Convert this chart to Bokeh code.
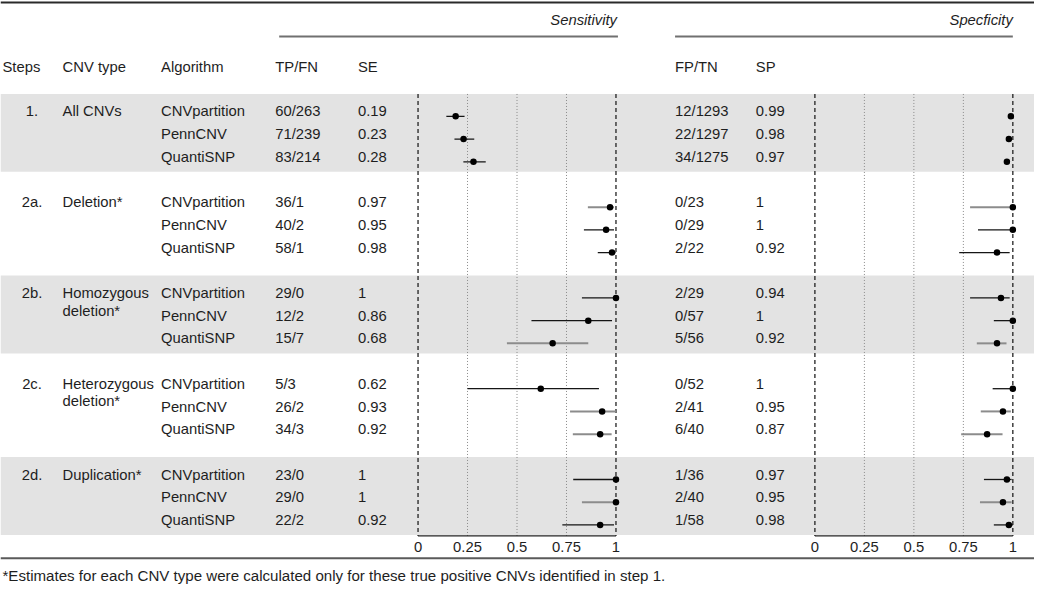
from bokeh.plotting import figure
from bokeh.models import Range1d
from bokeh.embed import file_html
from bokeh.resources import INLINE
from bokeh.core.properties import value

# ---------------- data ----------------
steps = ["1.", "2a.", "2b.", "2c.", "2d."]
cnv_types = ["All CNVs", "Deletion*", "Homozygous\ndeletion*", "Heterozygous\ndeletion*", "Duplication*"]
algorithms = ["CNVpartition", "PennCNV", "QuantiSNP"]
tp_fn = ["60/263", "71/239", "83/214", "36/1", "40/2", "58/1", "29/0", "12/2", "15/7",
         "5/3", "26/2", "34/3", "23/0", "29/0", "22/2"]
se = [0.19, 0.23, 0.28, 0.97, 0.95, 0.98, 1, 0.86, 0.68, 0.62, 0.93, 0.92, 1, 1, 0.92]
se_lo = [0.143, 0.184, 0.229, 0.858, 0.838, 0.908, 0.828, 0.573, 0.449, 0.25, 0.768, 0.782, 0.784, 0.828, 0.729]
se_hi = [0.235, 0.284, 0.342, 0.99, 0.99, 0.998, 1, 0.98, 0.86, 0.914, 1, 0.978, 1, 1, 0.99]
fp_tn = ["12/1293", "22/1297", "34/1275", "0/23", "0/29", "2/22", "2/29", "0/57", "5/56",
         "0/52", "2/41", "6/40", "1/36", "2/40", "1/58"]
sp = [0.99, 0.98, 0.97, 1, 1, 0.92, 0.94, 1, 0.92, 1, 0.95, 0.87, 0.97, 0.95, 0.98]
sp_lo = [0.984, 0.973, 0.96, 0.784, 0.824, 0.729, 0.784, 0.904, 0.818, 0.898, 0.838, 0.739, 0.854, 0.834, 0.904]
sp_hi = [0.995, 0.988, 0.98, 1, 1, 0.984, 0.984, 1, 0.968, 1, 0.99, 0.948, 0.994, 0.994, 1]
ticks = [0, 0.25, 0.5, 0.75, 1]
tick_labels = ["0", "0.25", "0.5", "0.75", "1"]
footnote = "*Estimates for each CNV type were calculated only for these true positive CNVs identified in step 1."

# ---------------- layout (reference pixel space) ----------------
W, H = 1050, 605
SE0, SP0, UNIT = 424.0, 827.0, 201.0
GROUP_TOP, GROUP_PITCH, BAND_H = 96.0, 93.25, 80.0
ROW_OFF, ROW_PITCH, DOT_OFF = 18.0, 23.33, 5.0
WRAP_PITCH = 18.0
AXIS_Y = 550.0
FONT = "Liberation Sans"
FS = "14.8px"
TXT = "#1e1e1e"

p = figure(width=1034, height=589, x_range=Range1d(0, W), y_range=Range1d(H, 0),
           x_axis_type=None, y_axis_type=None, output_backend="svg",
           toolbar_location=None, min_border=0)
p.grid.visible = False
p.outline_line_color = None
p.background_fill_color = "white"
p.border_fill_color = "white"
p.extra_x_ranges = {
    "se": Range1d((0 - SE0) / UNIT, (W - SE0) / UNIT),
    "sp": Range1d((0 - SP0) / UNIT, (W - SP0) / UNIT),
}


def txt(xs, ys, texts, size=FS, align="left", style="normal", color=TXT, rn="default"):
    p.text(x=xs, y=ys, text=texts, text_font=value(FONT), text_font_size=value(size),
           text_align=align, text_baseline="middle", text_font_style=style,
           text_color=color, x_range_name=rn)


n_groups = len(steps)
n_alg = len(algorithms)
group_tops = [GROUP_TOP + GROUP_PITCH * g for g in range(n_groups)]
row_y = [group_tops[g] + ROW_OFF + ROW_PITCH * i for g in range(n_groups) for i in range(n_alg)]
dot_y = [y + DOT_OFF for y in row_y]

# gray bands for alternate groups
band_tops = [group_tops[g] for g in range(0, n_groups, 2)]
p.quad(left=0, right=W, top=band_tops, bottom=[t + BAND_H for t in band_tops],
       fill_color="#e3e3e3", line_color=None)

# rules
p.segment(x0=[0], x1=[W], y0=[2], y1=[2], line_color="#2a2a2a", line_width=2)
p.segment(x0=[0], x1=[W], y0=[573], y1=[573], line_color="#5a5a5a", line_width=2)
p.segment(x0=[283, 685], x1=[627, 1028], y0=[37, 37], y1=[37, 37], line_color="#707070", line_width=2)

# section titles
txt([626], [20], ["Sensitivity"], align="right", style="italic")
txt([1028], [20], ["Specficity"], align="right", style="italic")

# column headers
txt([2, 63, 163, 279, 363, 685, 767], [68] * 7,
    ["Steps", "CNV type", "Algorithm", "TP/FN", "SE", "FP/TN", "SP"])

# step and CNV type labels
txt([32] * n_groups, [group_tops[g] + ROW_OFF for g in range(n_groups)], steps, align="center")
cx, cy, ct = [], [], []
for g, name in enumerate(cnv_types):
    for k, line in enumerate(name.split("\n")):
        cx.append(63)
        cy.append(group_tops[g] + ROW_OFF + WRAP_PITCH * k)
        ct.append(line)
txt(cx, cy, ct)

# row texts
alg_col = [algorithms[i] for g in range(n_groups) for i in range(n_alg)]
txt([163] * len(row_y), row_y, alg_col)
txt([279] * len(row_y), row_y, tp_fn)
txt([363] * len(row_y), row_y, [f"{v:g}" for v in se])
txt([685] * len(row_y), row_y, fp_tn)
txt([767] * len(row_y), row_y, [f"{v:g}" for v in sp])

# forest panels
shade_rows = {3, 8, 10, 11, 13}
ci_col = ["#8c8c8c" if i in shade_rows else "#151515" for i in range(len(row_y))]
ci_w = [2.0 if i in shade_rows else 1.3 for i in range(len(row_y))]
ends = [ticks[0], ticks[-1]]
inner = ticks[1:-1]
for rn, est, lo, hi in (("se", se, se_lo, se_hi), ("sp", sp, sp_lo, sp_hi)):
    p.segment(x0=inner, x1=inner, y0=[GROUP_TOP] * len(inner), y1=[AXIS_Y] * len(inner),
              line_color="#8a8a8a", line_width=1, line_dash="1 2", x_range_name=rn)
    p.segment(x0=ends, x1=ends, y0=[GROUP_TOP] * 2, y1=[AXIS_Y] * 2,
              line_color="#222222", line_width=1.3, line_dash="4 3", x_range_name=rn)
    p.segment(x0=lo, x1=hi, y0=dot_y, y1=dot_y, line_color=ci_col, line_width=ci_w,
              x_range_name=rn)
    p.scatter(x=est, y=dot_y, size=6.5, fill_color="#000000", line_color=None, x_range_name=rn)
    p.segment(x0=[ticks[0]], x1=[ticks[-1]], y0=[AXIS_Y], y1=[AXIS_Y],
              line_color="#222222", line_width=1.3, x_range_name=rn)
    txt(ticks, [561] * len(ticks), tick_labels, align="center", rn=rn)

# footnote
txt([2], [591], [footnote], size="15.1px")

open("out.html", "w").write(file_html(p, INLINE))
